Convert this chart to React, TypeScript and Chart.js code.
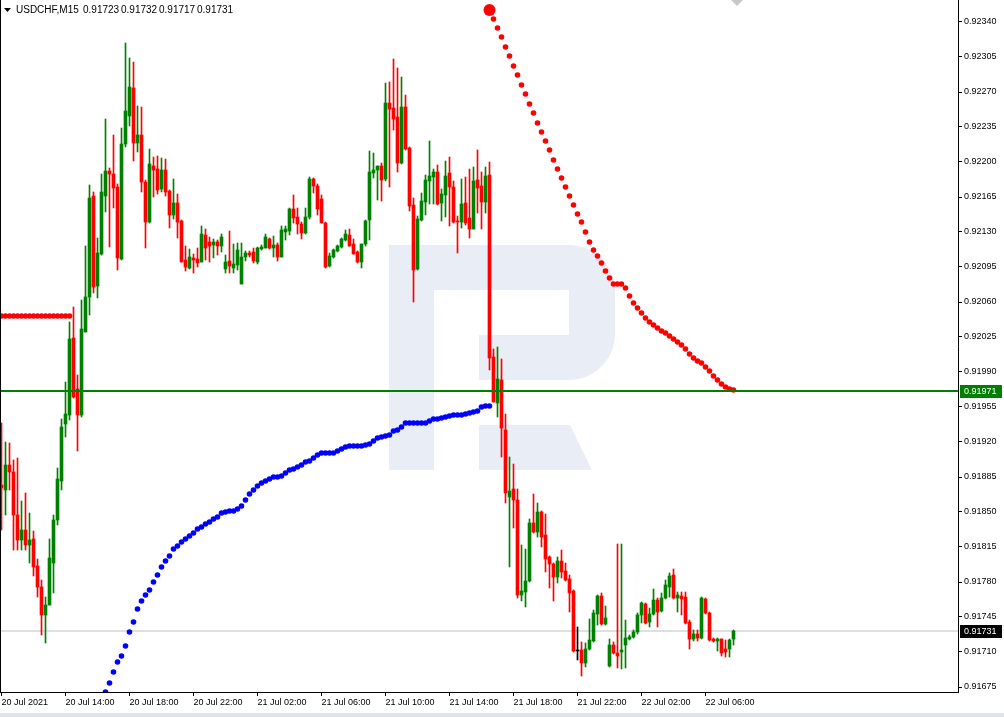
import React, { useEffect, useRef } from 'react';
import { Chart, registerables } from 'chart.js';

Chart.register(...registerables);

const symbolLabel = 'USDCHF,M15';
const headerValues = ['0.91723', '0.91732', '0.91717', '0.91731'];

// M15 candles, 20 Jul 2021 10:00 -> 22 Jul 2021 07:45
const openPrices = [
  0.91877, 0.91872, 0.91897, 0.91890, 0.91847, 0.91822, 0.91832, 0.91817, 0.91823, 0.91796,
  0.91775, 0.91747, 0.91757, 0.91799, 0.91842, 0.91881, 0.91938, 0.91947, 0.92024, 0.91973,
  0.91947, 0.92030, 0.92065, 0.92166, 0.92076, 0.92108, 0.92166, 0.92191, 0.92188, 0.92175,
  0.92103, 0.92218, 0.92246, 0.92274, 0.92219, 0.92227, 0.92180, 0.92140, 0.92196, 0.92193,
  0.92173, 0.92192, 0.92171, 0.92147, 0.92159, 0.92141, 0.92102, 0.92094, 0.92104, 0.92103,
  0.92100, 0.92127, 0.92120, 0.92117, 0.92120, 0.92116, 0.92093, 0.92101, 0.92094, 0.92097,
  0.92078, 0.92105, 0.92109, 0.92110, 0.92100, 0.92113, 0.92114, 0.92123, 0.92114, 0.92117,
  0.92105, 0.92130, 0.92131, 0.92153, 0.92145, 0.92138, 0.92129, 0.92145, 0.92183, 0.92176,
  0.92163, 0.92139, 0.92096, 0.92105, 0.92111, 0.92115, 0.92122, 0.92127, 0.92118, 0.92110,
  0.92100, 0.92118, 0.92142, 0.92189, 0.92192, 0.92196, 0.92183, 0.92259, 0.92254, 0.92245,
  0.92199, 0.92255, 0.92214, 0.92157, 0.92093, 0.92142, 0.92160, 0.92181, 0.92185, 0.92190,
  0.92159, 0.92167, 0.92189, 0.92175, 0.92141, 0.92140, 0.92159, 0.92144, 0.92133, 0.92182,
  0.92176, 0.92160, 0.92187, 0.92005, 0.91959, 0.91982, 0.91932, 0.91865, 0.91873, 0.91862,
  0.91767, 0.91770, 0.91781, 0.91839, 0.91830, 0.91850, 0.91827, 0.91805, 0.91798, 0.91785,
  0.91801, 0.91791, 0.91783, 0.91771, 0.91711, 0.91712, 0.91699, 0.91713, 0.91721, 0.91748,
  0.91766, 0.91738, 0.91696, 0.91717, 0.91709, 0.91710, 0.91717, 0.91723, 0.91725, 0.91730,
  0.91747, 0.91758, 0.91740, 0.91748, 0.91762, 0.91751, 0.91764, 0.91775, 0.91787, 0.91764,
  0.91766, 0.91765, 0.91740, 0.91723, 0.91728, 0.91724, 0.91763, 0.91749, 0.91723, 0.91721,
  0.91723, 0.91713, 0.91713, 0.91723,
];

const highPrices = [
  0.91939, 0.91920, 0.91919, 0.91902, 0.91904, 0.91861, 0.91869, 0.91849, 0.91831, 0.91803,
  0.91782, 0.91765, 0.91823, 0.91847, 0.91894, 0.91943, 0.91980, 0.92040, 0.92055, 0.91987,
  0.92062, 0.92116, 0.92177, 0.92170, 0.92124, 0.92188, 0.92243, 0.92194, 0.92227, 0.92178,
  0.92234, 0.92319, 0.92304, 0.92300, 0.92256, 0.92255, 0.92182, 0.92213, 0.92205, 0.92206,
  0.92204, 0.92203, 0.92172, 0.92183, 0.92168, 0.92142, 0.92116, 0.92113, 0.92108, 0.92114,
  0.92136, 0.92133, 0.92125, 0.92123, 0.92122, 0.92128, 0.92107, 0.92131, 0.92118, 0.92119,
  0.92119, 0.92111, 0.92111, 0.92114, 0.92115, 0.92117, 0.92128, 0.92124, 0.92126, 0.92119,
  0.92136, 0.92136, 0.92154, 0.92167, 0.92154, 0.92140, 0.92154, 0.92185, 0.92184, 0.92178,
  0.92167, 0.92140, 0.92109, 0.92113, 0.92117, 0.92124, 0.92132, 0.92133, 0.92123, 0.92111,
  0.92118, 0.92142, 0.92211, 0.92209, 0.92196, 0.92199, 0.92279, 0.92280, 0.92303, 0.92294,
  0.92285, 0.92267, 0.92215, 0.92164, 0.92146, 0.92169, 0.92187, 0.92221, 0.92193, 0.92197,
  0.92173, 0.92201, 0.92205, 0.92181, 0.92146, 0.92183, 0.92185, 0.92193, 0.92195, 0.92212,
  0.92190, 0.92195, 0.92200, 0.92013, 0.92015, 0.92003, 0.91948, 0.91905, 0.91898, 0.91873,
  0.91817, 0.91813, 0.91843, 0.91868, 0.91859, 0.91851, 0.91848, 0.91806, 0.91799, 0.91805,
  0.91812, 0.91799, 0.91787, 0.91772, 0.91735, 0.91720, 0.91719, 0.91743, 0.91752, 0.91767,
  0.91769, 0.91756, 0.91723, 0.91720, 0.91818, 0.91818, 0.91742, 0.91727, 0.91732, 0.91749,
  0.91760, 0.91759, 0.91754, 0.91773, 0.91764, 0.91769, 0.91782, 0.91789, 0.91793, 0.91770,
  0.91770, 0.91770, 0.91742, 0.91732, 0.91732, 0.91765, 0.91764, 0.91750, 0.91724, 0.91724,
  0.91723, 0.91722, 0.91723, 0.91732,
];

const lowPrices = [
  0.91832, 0.91847, 0.91872, 0.91812, 0.91812, 0.91812, 0.91812, 0.91799, 0.91786, 0.91765,
  0.91727, 0.91719, 0.91757, 0.91769, 0.91837, 0.91872, 0.91925, 0.91942, 0.91964, 0.91911,
  0.91945, 0.92030, 0.92047, 0.92069, 0.92064, 0.92107, 0.92150, 0.92115, 0.92154, 0.92092,
  0.92102, 0.92215, 0.92236, 0.92201, 0.92210, 0.92170, 0.92114, 0.92139, 0.92165, 0.92168,
  0.92170, 0.92166, 0.92134, 0.92143, 0.92124, 0.92100, 0.92091, 0.92093, 0.92089, 0.92095,
  0.92100, 0.92102, 0.92100, 0.92104, 0.92107, 0.92110, 0.92089, 0.92089, 0.92089, 0.92092,
  0.92078, 0.92101, 0.92105, 0.92099, 0.92098, 0.92112, 0.92114, 0.92113, 0.92105, 0.92101,
  0.92105, 0.92122, 0.92127, 0.92139, 0.92128, 0.92123, 0.92128, 0.92143, 0.92169, 0.92147,
  0.92139, 0.92094, 0.92095, 0.92104, 0.92110, 0.92114, 0.92121, 0.92116, 0.92108, 0.92099,
  0.92094, 0.92116, 0.92122, 0.92184, 0.92162, 0.92161, 0.92181, 0.92175, 0.92232, 0.92190,
  0.92198, 0.92212, 0.92151, 0.92060, 0.92092, 0.92141, 0.92147, 0.92158, 0.92158, 0.92157,
  0.92141, 0.92145, 0.92136, 0.92139, 0.92109, 0.92134, 0.92137, 0.92124, 0.92133, 0.92149,
  0.92133, 0.92149, 0.91992, 0.91960, 0.91945, 0.91905, 0.91859, 0.91795, 0.91834, 0.91764,
  0.91761, 0.91755, 0.91780, 0.91829, 0.91825, 0.91815, 0.91790, 0.91774, 0.91761, 0.91779,
  0.91784, 0.91781, 0.91750, 0.91710, 0.91702, 0.91686, 0.91695, 0.91712, 0.91720, 0.91737,
  0.91737, 0.91737, 0.91695, 0.91708, 0.91694, 0.91693, 0.91694, 0.91722, 0.91724, 0.91728,
  0.91739, 0.91738, 0.91735, 0.91747, 0.91735, 0.91750, 0.91763, 0.91765, 0.91763, 0.91750,
  0.91747, 0.91738, 0.91713, 0.91721, 0.91721, 0.91723, 0.91748, 0.91721, 0.91720, 0.91711,
  0.91706, 0.91705, 0.91705, 0.91717,
];

const closePrices = [
  0.91874, 0.91897, 0.91890, 0.91847, 0.91822, 0.91832, 0.91817, 0.91822, 0.91795, 0.91775,
  0.91747, 0.91757, 0.91804, 0.91842, 0.91883, 0.91935, 0.91948, 0.92023, 0.91965, 0.91947,
  0.92033, 0.92065, 0.92164, 0.92075, 0.92109, 0.92170, 0.92191, 0.92188, 0.92174, 0.92104,
  0.92218, 0.92251, 0.92275, 0.92219, 0.92227, 0.92180, 0.92140, 0.92198, 0.92192, 0.92172,
  0.92192, 0.92170, 0.92147, 0.92159, 0.92140, 0.92100, 0.92095, 0.92105, 0.92102, 0.92099,
  0.92128, 0.92114, 0.92116, 0.92120, 0.92116, 0.92125, 0.92100, 0.92096, 0.92098, 0.92112,
  0.92105, 0.92109, 0.92107, 0.92101, 0.92114, 0.92115, 0.92125, 0.92114, 0.92117, 0.92105,
  0.92132, 0.92133, 0.92153, 0.92144, 0.92138, 0.92129, 0.92145, 0.92183, 0.92176, 0.92153,
  0.92139, 0.92095, 0.92106, 0.92112, 0.92116, 0.92123, 0.92128, 0.92116, 0.92108, 0.92100,
  0.92118, 0.92141, 0.92190, 0.92192, 0.92196, 0.92182, 0.92259, 0.92253, 0.92243, 0.92199,
  0.92255, 0.92213, 0.92156, 0.92092, 0.92143, 0.92161, 0.92182, 0.92186, 0.92190, 0.92158,
  0.92168, 0.92186, 0.92175, 0.92140, 0.92140, 0.92158, 0.92139, 0.92133, 0.92181, 0.92174,
  0.92160, 0.92186, 0.92004, 0.91960, 0.91983, 0.91934, 0.91869, 0.91871, 0.91862, 0.91767,
  0.91771, 0.91781, 0.91839, 0.91830, 0.91850, 0.91825, 0.91803, 0.91798, 0.91785, 0.91801,
  0.91790, 0.91782, 0.91769, 0.91711, 0.91711, 0.91699, 0.91713, 0.91722, 0.91749, 0.91766,
  0.91738, 0.91744, 0.91717, 0.91709, 0.91706, 0.91712, 0.91724, 0.91725, 0.91730, 0.91747,
  0.91759, 0.91739, 0.91748, 0.91762, 0.91750, 0.91764, 0.91777, 0.91786, 0.91764, 0.91767,
  0.91763, 0.91739, 0.91723, 0.91728, 0.91724, 0.91764, 0.91749, 0.91722, 0.91721, 0.91723,
  0.91709, 0.91710, 0.91722, 0.91731,
];

const timeLabels = [
  '20 Jul 2021', '20 Jul 14:00', '20 Jul 18:00', '20 Jul 22:00', '21 Jul 02:00', '21 Jul 06:00',
  '21 Jul 10:00', '21 Jul 14:00', '21 Jul 18:00', '21 Jul 22:00', '22 Jul 02:00', '22 Jul 06:00',
];
const candlesPerLabel = 16;

const priceTicks = [
  0.92340, 0.92305, 0.92270, 0.92235, 0.92200, 0.92165, 0.92130, 0.92095, 0.92060, 0.92025,
  0.91990, 0.91955, 0.91920, 0.91885, 0.91850, 0.91815, 0.91780, 0.91745, 0.91710, 0.91675,
];

// indicator dots
const flatStopLevel = 0.92046;
const flatStopCount = 18;

const blueDotsStart = 26;
const blueDots = [
  0.91670, 0.91679, 0.91690, 0.91700, 0.91706, 0.91716, 0.91730, 0.91740, 0.91753, 0.91761,
  0.91767, 0.91772, 0.91780, 0.91787, 0.91795, 0.91801, 0.91806, 0.91813, 0.91816, 0.91820,
  0.91823, 0.91826, 0.91829, 0.91833, 0.91835, 0.91838, 0.91840, 0.91843, 0.91845, 0.91849,
  0.91850, 0.91851, 0.91851, 0.91853, 0.91856, 0.91862, 0.91868, 0.91872, 0.91876, 0.91879,
  0.91881, 0.91883, 0.91885, 0.91885, 0.91886, 0.91889, 0.91892, 0.91893, 0.91895, 0.91897,
  0.91900, 0.91901, 0.91904, 0.91907, 0.91909, 0.91909, 0.91909, 0.91909, 0.91911, 0.91913,
  0.91915, 0.91916, 0.91916, 0.91916, 0.91916, 0.91917, 0.91918, 0.91921, 0.91924, 0.91925,
  0.91926, 0.91927, 0.91931, 0.91932, 0.91935, 0.91939, 0.91939, 0.91939, 0.91939, 0.91939,
  0.91939, 0.91941, 0.91943, 0.91943, 0.91944, 0.91945, 0.91946, 0.91947, 0.91947, 0.91947,
  0.91948, 0.91949, 0.91950, 0.91951, 0.91955, 0.91956, 0.91956,
];

const redMarkerIndex = 122;
const redMarkerValue = 0.92352;
const redDotsStart = 123;
const redDots = [
  0.92343, 0.92334, 0.92325, 0.92315, 0.92306, 0.92296, 0.92287, 0.92277, 0.92268, 0.92258,
  0.92249, 0.92239, 0.92230, 0.92221, 0.92212, 0.92202, 0.92193, 0.92184, 0.92175, 0.92166,
  0.92157, 0.92148, 0.92140, 0.92130, 0.92120, 0.92112, 0.92106, 0.92099, 0.92091, 0.92084,
  0.92078, 0.92078, 0.92078, 0.92074, 0.92066, 0.92059, 0.92054, 0.92049, 0.92044, 0.92040,
  0.92037, 0.92034, 0.92031, 0.92029, 0.92026, 0.92023, 0.92020, 0.92017, 0.92013, 0.92008,
  0.92004, 0.92001, 0.91999, 0.91995, 0.91991, 0.91986, 0.91982, 0.91978, 0.91975, 0.91973,
  0.91972,
];

const levelPrice = 0.91971;
const bidPrice = 0.91731;

const UP = '#008000';
const DOWN = '#ff0000';
const FLAT = '#000000';
const FONT = '"Liberation Sans", Arial, sans-serif';

const W = 1004;
const H = 717;
const AXIS_W = 46;
const AXIS_H = 25;
const PX_PER_CANDLE = 4;

export default function App() {
  const ref = useRef<HTMLCanvasElement | null>(null);

  useEffect(() => {
    const canvas = ref.current;
    if (!canvas) return;

    const colors = openPrices.map((o, i) =>
      closePrices[i] > o ? UP : closePrices[i] < o ? DOWN : FLAT
    );
    const wicks = openPrices.map((_, i) => ({ x: i, y: [lowPrices[i], highPrices[i]] }));
    const bodies = openPrices.map((o, i) => ({ x: i, y: [o, closePrices[i]] }));

    const xMin = -0.375;
    const xMax = xMin + (W - AXIS_W) / PX_PER_CANDLE;

    const watermark = {
      id: 'watermark',
      beforeDatasetsDraw(chart: any) {
        const ctx = chart.ctx;
        ctx.save();
        ctx.fillStyle = '#e9edf5';
        ctx.fillRect(389, 245, 45, 225);
        ctx.fillRect(389, 245, 181, 45);
        ctx.fillRect(479, 335, 91, 45);
        ctx.beginPath();
        ctx.moveTo(569, 245);
        ctx.arcTo(615, 245, 615, 290, 46);
        ctx.lineTo(615, 335);
        ctx.arcTo(615, 380, 569, 380, 46);
        ctx.lineTo(569, 380);
        ctx.lineTo(569, 245);
        ctx.closePath();
        ctx.fill();
        ctx.beginPath();
        ctx.moveTo(479, 425);
        ctx.lineTo(570, 425);
        ctx.lineTo(592, 470);
        ctx.lineTo(479, 470);
        ctx.closePath();
        ctx.fill();
        ctx.restore();
      },
    };

    const overlay = {
      id: 'overlay',
      afterDraw(chart: any) {
        const ctx = chart.ctx;
        const area = chart.chartArea;
        const y = chart.scales.y;
        ctx.save();
        // left frame
        ctx.strokeStyle = '#000';
        ctx.lineWidth = 1;
        ctx.beginPath();
        ctx.moveTo(0.5, area.top);
        ctx.lineTo(0.5, area.bottom);
        ctx.stroke();

        // header
        ctx.fillStyle = '#000';
        ctx.beginPath();
        ctx.moveTo(4, 8);
        ctx.lineTo(11, 8);
        ctx.lineTo(7.5, 12);
        ctx.closePath();
        ctx.fill();
        ctx.font = `10px ${FONT}`;
        ctx.textBaseline = 'middle';
        ctx.textAlign = 'left';
        ctx.fillText(symbolLabel, 16, 10);
        headerValues.forEach((v, k) => ctx.fillText(v, 83 + k * 38, 10));

        // chart shift marker
        ctx.fillStyle = '#c8c8c8';
        ctx.beginPath();
        ctx.moveTo(731, 0);
        ctx.lineTo(743, 0);
        ctx.lineTo(737, 6);
        ctx.closePath();
        ctx.fill();

        // price labels on axis
        const tag = (price: number, bg: string) => {
          const py = Math.round(y.getPixelForValue(price));
          ctx.fillStyle = bg;
          ctx.fillRect(area.right + 2, py - 6, 42, 13);
          ctx.fillStyle = '#fff';
          ctx.font = `9px ${FONT}`;
          ctx.fillText(price.toFixed(5), area.right + 6, py + 0.5);
        };
        tag(levelPrice, '#008000');
        tag(bidPrice, '#000000');

        // bottom band
        ctx.fillStyle = '#dfe4ea';
        ctx.fillRect(0, H - 4, W, 4);
        ctx.restore();
      },
    };

    const chart = new Chart(canvas, {
      type: 'bar',
      data: {
        datasets: [
          {
            type: 'line',
            data: [{ x: xMin - 1, y: levelPrice }, { x: xMax + 1, y: levelPrice }],
            borderColor: '#008000',
            borderWidth: 2,
            pointRadius: 0,
            order: 0,
            clip: 0,
          } as any,
          {
            type: 'line',
            data: [{ x: redMarkerIndex, y: redMarkerValue }],
            showLine: false,
            pointRadius: 6,
            pointBorderWidth: 0,
            pointBackgroundColor: '#ff0000',
            order: 1,
            clip: 0,
          } as any,
          {
            type: 'line',
            data: redDots.map((v, k) => ({ x: redDotsStart + k, y: v })),
            showLine: false,
            pointRadius: 2.8,
            pointBorderWidth: 0,
            pointBackgroundColor: '#ff0000',
            order: 1,
            clip: 0,
          } as any,
          {
            type: 'line',
            data: Array.from({ length: flatStopCount }, (_, k) => ({ x: k, y: flatStopLevel })),
            showLine: false,
            pointRadius: 2.8,
            pointBorderWidth: 0,
            pointBackgroundColor: '#ff0000',
            order: 1,
            clip: 0,
          } as any,
          {
            type: 'line',
            data: blueDots.map((v, k) => ({ x: blueDotsStart + k, y: v })),
            showLine: false,
            pointRadius: 2.8,
            pointBorderWidth: 0,
            pointBackgroundColor: '#0000ff',
            order: 1,
            clip: 0,
          } as any,
          {
            type: 'bar',
            data: bodies,
            backgroundColor: colors,
            borderWidth: 0,
            barThickness: 3,
            minBarLength: 1,
            grouped: false,
            order: 3,
            clip: 0,
          } as any,
          {
            type: 'bar',
            data: wicks,
            backgroundColor: colors,
            borderWidth: 0,
            barThickness: 1,
            grouped: false,
            order: 4,
            clip: 0,
          } as any,
          {
            type: 'line',
            data: [{ x: xMin - 1, y: bidPrice }, { x: xMax + 1, y: bidPrice }],
            borderColor: '#c0c0c0',
            borderWidth: 1,
            pointRadius: 0,
            order: 5,
            clip: 0,
          } as any,
        ],
      },
      options: {
        animation: false,
        responsive: false,
        devicePixelRatio: 1,
        events: [],
        layout: { padding: 0, autoPadding: false },
        plugins: {
          legend: { display: false },
          tooltip: { enabled: false },
        },
        scales: {
          x: {
            type: 'linear',
            position: 'bottom',
            min: xMin,
            max: xMax,
            offset: false,
            grid: {
              display: true,
              offset: false,
              drawOnChartArea: false,
              drawTicks: true,
              tickLength: 4,
              tickColor: '#000',
            },
            border: { display: true, color: '#000', width: 1 },
            ticks: {
              autoSkip: false,
              maxRotation: 0,
              minRotation: 0,
              align: 'start',
              padding: 1,
              color: '#000',
              font: { family: FONT, size: 9 },
              callback: (v: any) => timeLabels[Math.round(Number(v) / candlesPerLabel)] ?? '',
            },
            afterBuildTicks: (s: any) => {
              s.ticks = timeLabels.map((_, k) => ({ value: k * candlesPerLabel }));
            },
            afterFit: (s: any) => {
              s.height = AXIS_H;
              s.paddingLeft = 0;
              s.paddingRight = 0;
            },
          },
          y: {
            type: 'linear',
            position: 'right',
            min: 0.9167,
            max: 0.92362,
            grid: {
              display: true,
              drawOnChartArea: false,
              drawTicks: true,
              tickLength: 4,
              tickColor: '#000',
            },
            border: { display: true, color: '#000', width: 1 },
            ticks: {
              padding: 2,
              color: '#000',
              font: { family: FONT, size: 9 },
              callback: (v: any) => Number(v).toFixed(5),
            },
            afterBuildTicks: (s: any) => {
              s.ticks = priceTicks.map((value) => ({ value }));
            },
            afterFit: (s: any) => {
              s.width = AXIS_W;
              s.paddingTop = 0;
              s.paddingBottom = 0;
            },
          },
        },
      } as any,
      plugins: [watermark, overlay],
    });

    return () => chart.destroy();
  }, []);

  return (
    <div style={{ position: 'fixed', left: 0, top: 0, width: W, height: H, background: '#fff' }}>
      <canvas ref={ref} width={W} height={H} style={{ display: 'block', width: W, height: H }} />
    </div>
  );
}
